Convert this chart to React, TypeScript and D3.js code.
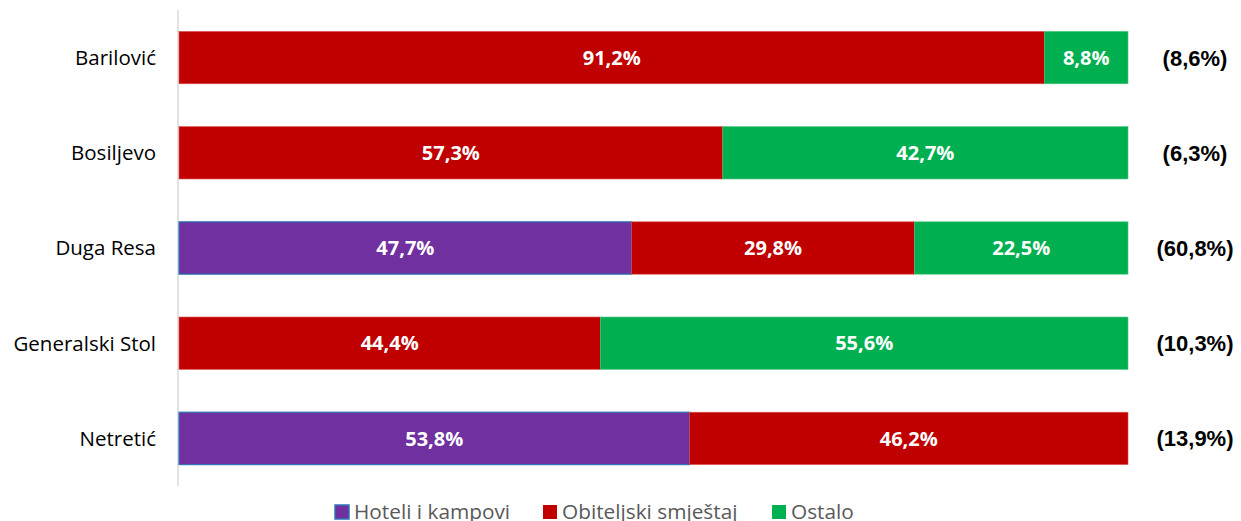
import React from "react";
import * as d3 from "d3";

const categories = ["Barilović", "Bosiljevo", "Duga Resa", "Generalski Stol", "Netretić"];
const hoteli = [0, 0, 47.7, 0, 53.8];
const obiteljski = [91.2, 57.3, 29.8, 44.4, 46.2];
const ostalo = [8.8, 42.7, 22.5, 55.6, 0];
const shares = ["(8,6%)", "(6,3%)", "(60,8%)", "(10,3%)", "(13,9%)"];
const seriesNames = ["Hoteli i kampovi", "Obiteljski smještaj", "Ostalo"];
const colors = ["#7030A0", "#C00000", "#00B050"];
const strokes = ["#2E75B6", "#D9534F", "#4CC47F"];

const W = 1241, H = 521;
const FONT = "'Open Sans', 'Noto Sans', sans-serif";

export default function App() {
  const x = d3.scaleLinear().domain([0, 100]).range([179, 1128]);
  const y = d3.scaleBand<string>().domain(categories).range([10, 486]).paddingInner(0.45).paddingOuter(0.225);
  const fmt = (v: number) => v.toFixed(1).replace(".", ",") + "%";
  const rows = categories.map((c, i) => {
    const vals = [hoteli[i], obiteljski[i], ostalo[i]];
    let acc = 0;
    return vals.map((v, s) => {
      const x0 = acc;
      acc += v;
      return { c, s, v, x0, x1: acc };
    }).filter(d => d.v > 0);
  });
  const legendX = [335, 543, 772];
  return (
    <svg width={W} height={H} style={{ position: "absolute", left: 0, top: 0, background: "#fff" }} fontFamily={FONT}>
      <line x1={178} x2={178} y1={10} y2={486} stroke="#D9D9D9" strokeWidth={1.5} />
      {rows.map((segs, i) => (
        <g key={i}>
          {segs.map(d => (
            <g key={d.s}>
              <rect x={x(d.x0)} y={y(d.c)!} width={x(d.x1) - x(d.x0)} height={y.bandwidth()}
                fill={colors[d.s]} stroke={strokes[d.s]} strokeWidth={d.s === 0 ? 1.2 : 0.6} />
              <text x={(x(d.x0) + x(d.x1)) / 2} y={y(d.c)! + y.bandwidth() / 2} dy="0.36em"
                textAnchor="middle" fill="#fff" fontWeight="bold" fontSize={20}>{fmt(d.v)}</text>
            </g>
          ))}
          <text x={156} y={y(categories[i])! + y.bandwidth() / 2} dy="0.36em" textAnchor="end"
            fontSize={20.5} fill="#000">{categories[i]}</text>
          <text x={1195} y={y(categories[i])! + y.bandwidth() / 2} dy="0.36em" textAnchor="middle"
            fontFamily="'Liberation Sans', Arial, sans-serif" fontSize={22} fontWeight="bold" fill="#000">{shares[i]}</text>
        </g>
      ))}
      {seriesNames.map((n, s) => (
        <g key={n}>
          <rect x={legendX[s]} y={505} width={14} height={14} fill={colors[s]} stroke={s === 0 ? "#2E75B6" : "none"} strokeWidth={1.5} />
          <text x={legendX[s] + 19} y={512} dy="0.36em" fontSize={20.8} fill="#595959">{n}</text>
        </g>
      ))}
    </svg>
  );
}
